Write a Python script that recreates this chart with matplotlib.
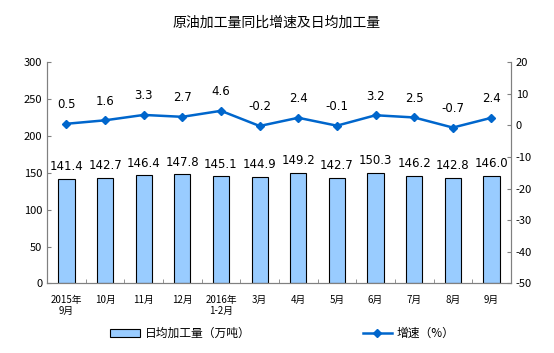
import matplotlib.pyplot as plt
import numpy as np

plt.rcParams['font.family'] = ['Noto Sans CJK SC', 'DejaVu Sans']
plt.rcParams['axes.unicode_minus'] = False

months = ['2015年\n9月', '10月', '11月', '12月', '2016年\n1-2月', '3月',
          '4月', '5月', '6月', '7月', '8月', '9月']
daily_output = [141.4, 142.7, 146.4, 147.8, 145.1, 144.9,
                149.2, 142.7, 150.3, 146.2, 142.8, 146.0]
growth = [0.5, 1.6, 3.3, 2.7, 4.6, -0.2, 2.4, -0.1, 3.2, 2.5, -0.7, 2.4]

fig = plt.figure(figsize=(5.54, 3.53), dpi=100)
ax = fig.add_axes([0.085, 0.197, 0.837, 0.627])
x = np.arange(len(months))

ax.bar(x, daily_output, width=0.42, color='#99CCFF', edgecolor='black',
       linewidth=0.8, label='日均加工量（万吨）')
for xi, v in zip(x, daily_output):
    ax.text(xi, v + 8, '%.1f' % v, ha='center', va='bottom', fontsize=8.5,
            family='DejaVu Sans')

ax.set_xlim(-0.5, len(months) - 0.5)
ax.set_ylim(0, 300)
ax.set_yticks(range(0, 301, 50))
ax.set_xticks(x)
ax.set_xticklabels(months, fontsize=7)
ax.set_xticks(np.arange(-0.5, len(months), 1), minor=True)
ax.tick_params(axis='x', which='major', length=0, pad=8)
ax.tick_params(axis='x', which='minor', direction='in', length=3, color='#808080')
ax.tick_params(axis='y', direction='in', length=3, color='#808080', labelsize=8)

ax2 = ax.twinx()
ax2.plot(x, growth, color='#0066CC', marker='D', markersize=4, linewidth=1.8,
         label='增速（%）')
for xi, v in zip(x, growth):
    ax2.text(xi, v + 4.0, '%.1f' % v, ha='center', va='bottom', fontsize=8.5,
             family='DejaVu Sans')
ax2.set_ylim(-50, 20)
ax2.set_yticks(range(-50, 21, 10))
ax2.tick_params(axis='y', direction='in', length=3, color='#808080', labelsize=8)

for a in (ax, ax2):
    for s in a.spines.values():
        s.set_color('#808080')
    a.spines['top'].set_visible(False)

fig.text(0.5, 0.935, '原油加工量同比增速及日均加工量', ha='center', va='center', fontsize=10)

h1, l1 = ax.get_legend_handles_labels()
h2, l2 = ax2.get_legend_handles_labels()
fig.legend(h1 + h2, l1 + l2, loc='center', bbox_to_anchor=(0.51, 0.055), ncol=2,
           frameon=False, fontsize=8.5, columnspacing=9.5, handlelength=2.5,
           handletextpad=0.4)

plt.savefig('out.png')
